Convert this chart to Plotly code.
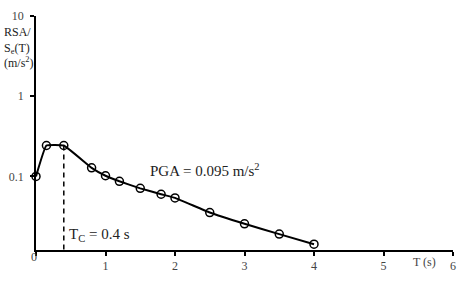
import plotly.graph_objects as go

# Data
period_s = [0.0, 0.15, 0.4, 0.8, 1.0, 1.2, 1.5, 1.8, 2.0, 2.5, 3.0, 3.5, 4.0]
rsa_ratio = [0.100, 0.243, 0.243, 0.128, 0.102, 0.087, 0.071, 0.060, 0.054, 0.0355, 0.0257, 0.0191, 0.0143]
tc_period = 0.4
y_bottom = 0.0121

x_tickvals = [0, 1, 2, 3, 4, 5, 6]
x_ticktext = ["", "1", "2", "3", "4", "5", "6"]
origin_label = "0"
y_tickvals = [0.1, 1, 10]
y_ticktext = ["0.1", "1", "10"]

FONT = "Liberation Serif"

fig = go.Figure()

fig.add_trace(go.Scatter(
    x=[tc_period, tc_period], y=[rsa_ratio[2], y_bottom],
    mode="lines", line=dict(color="black", width=1.5, dash="5px,4px"),
    hoverinfo="skip", showlegend=False,
))

fig.add_trace(go.Scatter(
    x=period_s, y=rsa_ratio, mode="lines+markers",
    line=dict(color="black", width=2, shape="spline", smoothing=0.3),
    marker=dict(symbol="circle-open", size=8, color="black", line=dict(width=1.5, color="black")),
    cliponaxis=False, showlegend=False,
))

fig.update_layout(
    width=465, height=282,
    margin=dict(l=34, r=9, t=11, b=29),
    paper_bgcolor="white", plot_bgcolor="white",
    font=dict(family=FONT, color="#333", size=11),
    xaxis=dict(
        range=[0, 6], tickvals=x_tickvals, ticktext=x_ticktext,
        showline=True, linecolor="black", linewidth=1.5,
        ticks="outside", ticklen=4, tickcolor="black", tickwidth=1.5,
        showgrid=False, zeroline=False,
        tickfont=dict(family=FONT, size=12, color="#444"),
    ),
    yaxis=dict(
        type="log", range=[-1.917, 1],
        tickvals=y_tickvals, ticktext=y_ticktext,
        showline=True, linecolor="black", linewidth=1.5,
        ticks="outside", ticklen=4, tickcolor="black", tickwidth=1.5,
        showgrid=False, zeroline=False, ticklabelstandoff=4,
        tickfont=dict(family=FONT, size=12, color="#444"),
    ),
    annotations=[
        dict(xref="paper", yref="paper", x=0.268, y=0.343, xanchor="left", yanchor="middle",
             text="PGA = 0.095 m/s<sup>2</sup>", showarrow=False,
             font=dict(family=FONT, size=15, color="#222")),
        dict(xref="paper", yref="paper", x=0.074, y=0.066, xanchor="left", yanchor="middle",
             text="T<sub>C</sub> = 0.4 s", showarrow=False,
             font=dict(family=FONT, size=15, color="#222")),
        dict(xref="paper", yref="paper", x=0.932, y=-0.05, xanchor="center", yanchor="middle",
             text="T (s)", showarrow=False,
             font=dict(family=FONT, size=12, color="#444")),
        dict(xref="paper", yref="paper", x=-0.005, y=-0.03, xanchor="center", yanchor="middle",
             text=origin_label, showarrow=False,
             font=dict(family=FONT, size=12, color="#444")),
        dict(xref="paper", yref="paper", x=-0.0806, y=0.864, xanchor="left", yanchor="middle",
             text="RSA/<br>S<sub>e</sub>(T)<br>(m/s<sup>2</sup>)", showarrow=False, align="left",
             font=dict(family=FONT, size=12, color="#222")),
    ],
)

fig.write_html("out.html")
